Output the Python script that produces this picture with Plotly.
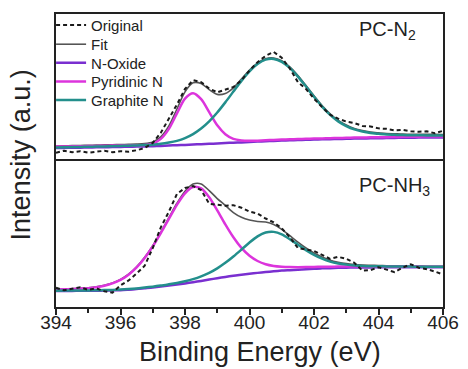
import plotly.graph_objects as go

# Binding energy sample grid (eV)
energy = [394.0, 394.25, 394.5, 394.75, 395.0, 395.25, 395.5, 395.75,
          396.0, 396.25, 396.5, 396.75, 397.0, 397.25, 397.5, 397.75,
          398.0, 398.25, 398.5, 398.75, 399.0, 399.25, 399.5, 399.75,
          400.0, 400.25, 400.5, 400.75, 401.0, 401.25, 401.5, 401.75,
          402.0, 402.25, 402.5, 402.75, 403.0, 403.25, 403.5, 403.75,
          404.0, 404.25, 404.5, 404.75, 405.0, 405.25, 405.5, 405.75, 406.0]

# ---- PC-N2 (top panel), intensity in a.u. ----
n2_original = [6.5, 8.5, 7.0, 8.0, 6.5, 7.5, 8.5, 7.0, 8.0, 7.5, 9.0, 11.5, 16.5, 27.0, 41.0, 56.0,
               72.0, 81.0, 79.0, 72.5, 68.5, 71.0, 74.0, 81.0, 91.0, 99.5, 106.0, 110.0, 104.0, 93.0, 79.0, 72.0,
               62.0, 53.5, 45.5, 41.5, 38.5, 37.0, 34.0, 33.5, 31.5, 31.0, 29.5, 30.0, 28.5, 28.0, 28.5, 26.5,
               29.0]
n2_fit = [13.4, 13.5, 13.8, 13.9, 14.1, 14.3, 14.5, 14.7, 14.9, 15.1, 15.3, 15.8, 17.5, 22.8, 34.0, 51.4,
          69.0, 78.3, 77.6, 71.3, 66.4, 67.3, 73.2, 82.3, 91.3, 98.7, 103.1, 103.8, 100.9, 94.6, 85.7, 75.5,
          64.9, 54.9, 46.4, 39.7, 34.9, 31.4, 29.2, 27.7, 26.9, 26.2, 25.9, 25.6, 25.5, 25.4, 25.3, 25.3,
          25.2]
n2_noxide = [11.3, 11.4, 11.6, 11.7, 11.8, 12.0, 12.1, 12.3, 12.4, 12.6, 12.8, 13.0, 13.2, 13.5, 13.9, 14.2,
             14.5, 14.9, 15.3, 15.6, 16.0, 16.4, 16.8, 17.1, 17.5, 17.9, 18.3, 18.6, 19.0, 19.3, 19.5, 19.8,
             20.0, 20.2, 20.4, 20.6, 20.8, 21.0, 21.1, 21.3, 21.4, 21.5, 21.7, 21.8, 21.9, 22.0, 22.1, 22.2,
             22.2]
n2_pyridinic = [12.8, 12.9, 13.1, 13.2, 13.3, 13.5, 13.6, 13.8, 13.9, 14.0, 14.1, 14.4, 15.9, 20.7, 31.0, 46.9,
                62.0, 67.6, 61.5, 48.2, 34.6, 25.5, 20.7, 19.1, 18.7, 18.9, 19.3, 19.6, 20.0, 20.3, 20.5, 20.8,
                21.0, 21.2, 21.4, 21.6, 21.8, 22.0, 22.1, 22.3, 22.4, 22.5, 22.7, 22.8, 22.9, 23.0, 23.1, 23.2,
                23.2]
n2_graphite = [11.9, 12.0, 12.3, 12.4, 12.6, 12.8, 13.0, 13.2, 13.4, 13.7, 14.0, 14.4, 14.8, 15.6, 16.9, 18.7,
               21.5, 25.6, 31.3, 38.7, 47.8, 58.2, 69.3, 80.3, 90.1, 97.7, 102.1, 102.8, 99.9, 93.6, 84.7, 74.5,
               63.9, 53.9, 45.4, 38.7, 33.9, 30.4, 28.2, 26.7, 25.9, 25.2, 24.9, 24.6, 24.5, 24.4, 24.3, 24.3,
               24.2]

# ---- PC-NH3 (bottom panel) ----
nh3_original = [19.5, 17.0, 18.5, 20.0, 17.5, 19.0, 16.0, 14.5, 22.0, 27.0, 34.0, 42.0, 60.0, 81.0, 97.0, 115.0,
                121.0, 123.0, 119.0, 105.0, 104.0, 103.0, 103.5, 101.0, 97.0, 95.0, 90.0, 86.0, 80.0, 71.0, 60.0, 58.5,
                57.0, 53.0, 49.0, 51.0, 49.0, 45.0, 37.0, 37.5, 40.5, 38.0, 35.5, 40.0, 43.5, 40.0, 38.5, 36.0,
                33.0]
nh3_fit = [18.0, 18.3, 18.5, 19.0, 19.6, 20.6, 22.2, 24.5, 28.1, 33.4, 40.9, 50.6, 62.4, 76.1, 90.9, 105.5,
           117.8, 125.1, 125.2, 118.4, 110.3, 103.3, 96.0, 91.2, 88.4, 86.9, 86.5, 84.0, 79.0, 72.5, 65.9, 60.0,
           54.9, 50.8, 47.6, 45.6, 44.2, 43.3, 42.7, 42.4, 42.2, 42.0, 42.0, 41.8, 41.7, 41.6, 41.5, 41.5,
           41.4]
nh3_noxide = [16.3, 16.4, 16.4, 16.5, 16.5, 16.6, 16.7, 16.9, 17.1, 17.6, 18.2, 19.0, 19.8, 20.8, 21.8, 22.9,
              24.0, 25.2, 26.5, 27.9, 29.3, 30.6, 31.8, 32.8, 33.8, 34.7, 35.5, 36.3, 37.0, 37.5, 38.0, 38.5,
              39.0, 39.3, 39.5, 39.8, 40.0, 40.1, 40.2, 40.3, 40.4, 40.4, 40.5, 40.5, 40.5, 40.5, 40.5, 40.5,
              40.5]
nh3_pyridinic = [17.7, 18.0, 18.2, 18.7, 19.2, 20.2, 21.7, 24.0, 27.5, 32.8, 40.2, 49.8, 61.5, 75.1, 89.6, 103.9,
                 115.6, 122.0, 120.6, 111.6, 98.3, 84.0, 70.9, 60.1, 52.1, 46.8, 43.5, 41.8, 41.0, 40.6, 40.5, 40.6,
                 40.8, 40.9, 40.9, 41.1, 41.1, 41.1, 41.1, 41.2, 41.2, 41.1, 41.2, 41.1, 41.1, 41.1, 41.0, 41.0,
                 41.0]
nh3_graphite = [16.6, 16.7, 16.7, 16.8, 16.9, 17.0, 17.2, 17.4, 17.7, 18.2, 18.9, 19.8, 20.7, 21.8, 23.1, 24.5,
                26.2, 28.3, 31.1, 34.7, 39.3, 44.9, 51.4, 58.4, 65.6, 71.8, 75.7, 76.4, 73.9, 69.0, 63.4, 57.9,
                53.1, 49.2, 46.2, 44.3, 43.1, 42.3, 41.8, 41.5, 41.4, 41.3, 41.3, 41.2, 41.1, 41.0, 41.0, 41.0,
                40.9]

x_ticks = [394, 396, 398, 400, 402, 404, 406]
panel_labels = ["PC-N<sub>2</sub>", "PC-NH<sub>3</sub>"]

C_ORIG = "#1a1a1a"
C_FIT = "#555555"
C_NOX = "#7a2fd0"
C_PYR = "#dc34dc"
C_GRA = "#238f8c"
FONT = "Liberation Sans, Arial, sans-serif"

fig = go.Figure()

panels = [
    ("x2", "y2", n2_original, n2_fit, n2_noxide, n2_pyridinic, n2_graphite, True),
    ("x", "y", nh3_original, nh3_fit, nh3_noxide, nh3_pyridinic, nh3_graphite, False),
]
for xa, ya, orig, fit, nox, pyr, gra, leg in panels:
    fig.add_trace(go.Scatter(x=energy, y=fit, xaxis=xa, yaxis=ya, mode="lines", name="Fit",
                             line=dict(color=C_FIT, width=1.6, shape="spline", smoothing=0.8),
                             showlegend=leg, legend="legend2"))
    fig.add_trace(go.Scatter(x=energy, y=nox, xaxis=xa, yaxis=ya, mode="lines", name="N-Oxide",
                             line=dict(color=C_NOX, width=2.5, shape="spline", smoothing=0.8),
                             showlegend=leg, legend="legend3"))
    fig.add_trace(go.Scatter(x=energy, y=pyr, xaxis=xa, yaxis=ya, mode="lines", name="Pyridinic N",
                             line=dict(color=C_PYR, width=2.5, shape="spline", smoothing=0.8),
                             showlegend=leg, legend="legend4"))
    fig.add_trace(go.Scatter(x=energy, y=gra, xaxis=xa, yaxis=ya, mode="lines", name="Graphite N",
                             line=dict(color=C_GRA, width=2.5, shape="spline", smoothing=0.8),
                             showlegend=leg, legend="legend5"))
    fig.add_trace(go.Scatter(x=energy, y=orig, xaxis=xa, yaxis=ya, mode="lines", name="Original",
                             line=dict(color=C_ORIG, width=2, dash="4px,3px"),
                             showlegend=leg, legend="legend"))

axis_line = dict(showline=True, linecolor="#222222", linewidth=1.5, mirror=True,
                 showgrid=False, zeroline=False)


def legend_row(ypos):
    return dict(x=-0.0127, xanchor="left", y=ypos, yanchor="middle", bgcolor="rgba(0,0,0,0)",
                font=dict(size=15, family=FONT, color="#222222"))


fig.update_layout(
    width=468, height=369,
    margin=dict(l=56, r=17, t=9, b=62),
    paper_bgcolor="white", plot_bgcolor="white",
    font=dict(family=FONT, color="#222222"),
    xaxis=dict(domain=[0, 1], anchor="y", range=[394, 406], tickvals=x_ticks,
               ticks="outside", ticklen=6, tickwidth=1.5, tickcolor="#222222",
               ticklabelstandoff=-9,
               minor=dict(dtick=1, tick0=394, ticks="outside", ticklen=4, tickwidth=1.5, tickcolor="#222222"),
               tickfont=dict(size=19, family=FONT, color="#222222"), **axis_line),
    xaxis2=dict(domain=[0, 1], anchor="y2", range=[394, 406], matches="x",
                showticklabels=False, ticks="", **axis_line),
    yaxis=dict(domain=[0, 0.5], anchor="x", range=[0, 149], showticklabels=False, ticks="", **axis_line),
    yaxis2=dict(domain=[0.505, 1], anchor="x2", range=[0, 149], showticklabels=False, ticks="", **axis_line),
    legend=legend_row(0.962),
    legend2=legend_row(0.896),
    legend3=legend_row(0.833),
    legend4=legend_row(0.769),
    legend5=legend_row(0.706),
    showlegend=True,
)

fig.add_annotation(text=panel_labels[0], xref="paper", yref="paper", x=0.777, y=0.942,
                   xanchor="left", yanchor="middle", showarrow=False,
                   font=dict(size=20, family=FONT, color="#222222"))
fig.add_annotation(text=panel_labels[1], xref="paper", yref="paper", x=0.777, y=0.41,
                   xanchor="left", yanchor="middle", showarrow=False,
                   font=dict(size=20, family=FONT, color="#222222"))
fig.add_annotation(text="Intensity (a.u.)", xref="paper", yref="paper", x=-0.09, y=0.518,
                   xanchor="center", yanchor="middle", textangle=-90, showarrow=False,
                   font=dict(size=27, family=FONT, color="#222222"))
fig.add_annotation(text="Binding Energy (eV)", xref="paper", yref="paper", x=0.527, y=-0.154,
                   xanchor="center", yanchor="middle", showarrow=False,
                   font=dict(size=27, family=FONT, color="#222222"))

fig.write_html("out.html", config={"displayModeBar": False},
               post_script="document.body.style.margin='0';")
